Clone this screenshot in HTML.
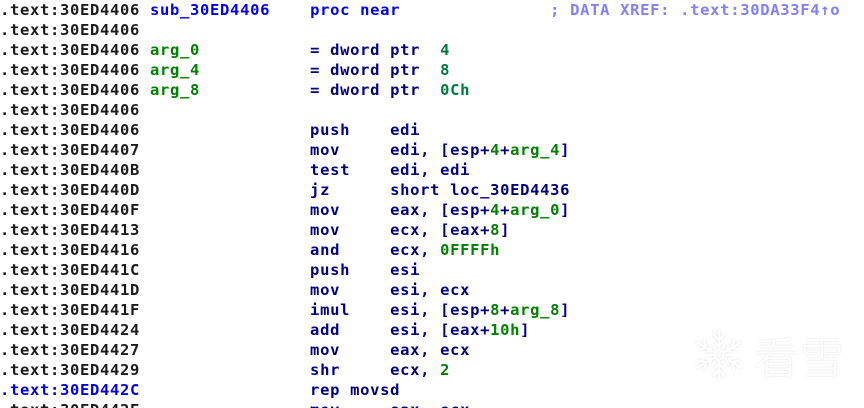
<!DOCTYPE html>
<html>
<head>
<meta charset="utf-8">
<style>
html,body{margin:0;padding:0;background:#fff;}
#p{position:relative;width:864px;height:408px;overflow:hidden;background:#fff;}
pre{position:absolute;left:0;top:0;margin:0;font:bold 15.5px/20px "DejaVu Sans Mono","Liberation Mono",monospace;letter-spacing:.67px;color:#000080;filter:blur(.35px);}
i{font-style:normal}
.a{color:#1c1c1c}.b{color:#0000f0}.g{color:#008000}.n{color:#007a3c}.c{color:#8080ff}
#wm{position:absolute;left:754px;top:322px;font:200 44px/66px "Noto Sans CJK SC","Liberation Sans",sans-serif;letter-spacing:2px;color:#fff;text-shadow:0 0 2px #e2e2e2,0 0 1px #e8e8e8;white-space:nowrap;}
svg{position:absolute;left:689px;top:325px;}
</style>
</head>
<body>
<div id="p">
<pre><i class="a">.text:30ED4406</i> <i class="b">sub_30ED4406</i>    <i class="b">proc near</i>               <i class="c">; DATA XREF: .text:30DA33F4↑o</i>
<i class="a">.text:30ED4406</i>
<i class="a">.text:30ED4406</i> <i class="g">arg_0</i>           = dword ptr  <i class="n">4</i>
<i class="a">.text:30ED4406</i> <i class="g">arg_4</i>           = dword ptr  <i class="n">8</i>
<i class="a">.text:30ED4406</i> <i class="g">arg_8</i>           = dword ptr  <i class="n">0Ch</i>
<i class="a">.text:30ED4406</i>
<i class="a">.text:30ED4406</i>                 push    edi
<i class="a">.text:30ED4407</i>                 mov     edi, [esp+<i class="g">4</i>+<i class="g">arg_4</i>]
<i class="a">.text:30ED440B</i>                 test    edi, edi
<i class="a">.text:30ED440D</i>                 jz      short loc_30ED4436
<i class="a">.text:30ED440F</i>                 mov     eax, [esp+<i class="g">4</i>+<i class="g">arg_0</i>]
<i class="a">.text:30ED4413</i>                 mov     ecx, [eax+<i class="g">8</i>]
<i class="a">.text:30ED4416</i>                 and     ecx, <i class="g">0FFFFh</i>
<i class="a">.text:30ED441C</i>                 push    esi
<i class="a">.text:30ED441D</i>                 mov     esi, ecx
<i class="a">.text:30ED441F</i>                 imul    esi, [esp+<i class="g">8</i>+<i class="g">arg_8</i>]
<i class="a">.text:30ED4424</i>                 add     esi, [eax+<i class="g">10h</i>]
<i class="a">.text:30ED4427</i>                 mov     eax, ecx
<i class="a">.text:30ED4429</i>                 shr     ecx, <i class="g">2</i>
<i class="b">.text:30ED442C</i>                 rep movsd
<i class="a">.text:30ED442E</i>                 mov     eax, ecx</pre>
<svg width="60" height="60" viewBox="-30 -30 60 60" style="filter:drop-shadow(0 0 1px #ddd)">
<g fill="none" stroke="#fff" stroke-width="2.4">
<g><path d="M0 -6V-26M-6 -21L0 -15L6 -21M-4 -13L0 -9L4 -13"/></g>
<g transform="rotate(60)"><path d="M0 -6V-26M-6 -21L0 -15L6 -21M-4 -13L0 -9L4 -13"/></g>
<g transform="rotate(120)"><path d="M0 -6V-26M-6 -21L0 -15L6 -21M-4 -13L0 -9L4 -13"/></g>
<g transform="rotate(180)"><path d="M0 -6V-26M-6 -21L0 -15L6 -21M-4 -13L0 -9L4 -13"/></g>
<g transform="rotate(240)"><path d="M0 -6V-26M-6 -21L0 -15L6 -21M-4 -13L0 -9L4 -13"/></g>
<g transform="rotate(300)"><path d="M0 -6V-26M-6 -21L0 -15L6 -21M-4 -13L0 -9L4 -13"/></g>
<path d="M0 -5L4.3 -2.5V2.5L0 5L-4.3 2.5V-2.5Z"/>
</g>
</svg>
<div id="wm">看雪</div>
</div>
</body>
</html>
